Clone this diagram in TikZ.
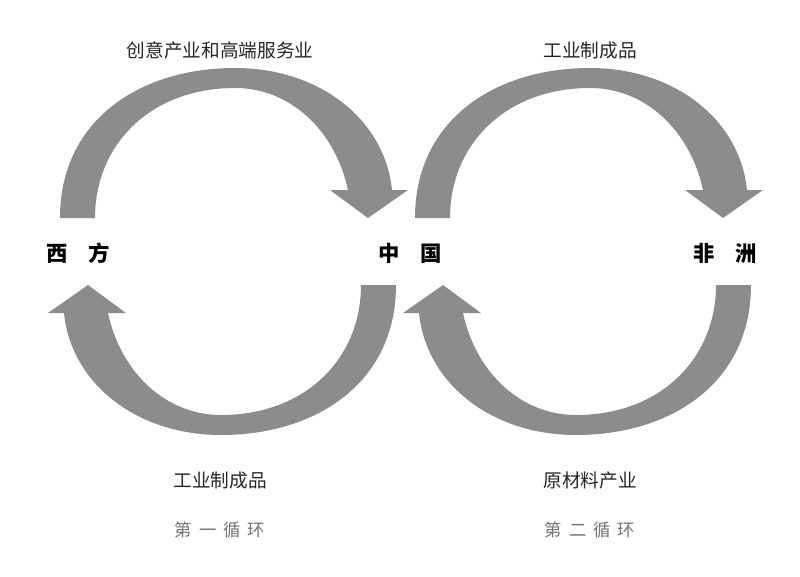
\documentclass[tikz,border=0pt]{standalone}
\usepackage{fontspec}
\newfontfamily\cjk{Noto Sans CJK SC}
\begin{document}
\begin{tikzpicture}[x=0.75pt,y=-0.75pt,
  lab/.style={font=\cjk\fontsize{14}{16}\selectfont,text=black!85},
  place/.style={font=\cjk\bfseries\fontsize{16}{18}\selectfont},
  cyc/.style={font=\cjk\fontsize{13}{15}\selectfont,text=black!55},
  band/.style={fill=black!45,draw=none}]
\useasboundingbox (0,0) rectangle (800,576);
\def\arrowshape{
  (60,218) .. controls (60,120) and (140,68) .. (235,68)
  .. controls (320,68) and (385,120) .. (392,190)
  -- (408,190) -- (368,218) -- (330,190) -- (348,190)
  .. controls (335,130) and (290,88) .. (235,88)
  .. controls (150,88) and (95,145) .. (95,218) -- cycle}
\fill[band] \arrowshape;
\fill[band,rotate around={180:(228,251.5)}] \arrowshape;
\begin{scope}[xshift=266.25pt]
\fill[band] \arrowshape;
\fill[band,rotate around={180:(228,251.5)}] \arrowshape;
\end{scope}
\node[place] (w) at (78,253) {西\hspace{1em}方};
\node[place] (c) at (410,253) {中\hspace{1em}国};
\node[place] (a) at (725,253) {非\hspace{1em}洲};
\node[lab] (t1) at (220,50) {创意产业和高端服务业};
\node[lab] (t2) at (590,50) {工业制成品};
\node[lab] (b1) at (220,480) {工业制成品};
\node[lab] (b2) at (590,480) {原材料产业};
\node[cyc] (c1) at (220,530) {第\hspace{0.4em}一\hspace{0.4em}循\hspace{0.4em}环};
\node[cyc] (c2) at (590,530) {第\hspace{0.4em}二\hspace{0.4em}循\hspace{0.4em}环};
\end{tikzpicture}
\end{document}
